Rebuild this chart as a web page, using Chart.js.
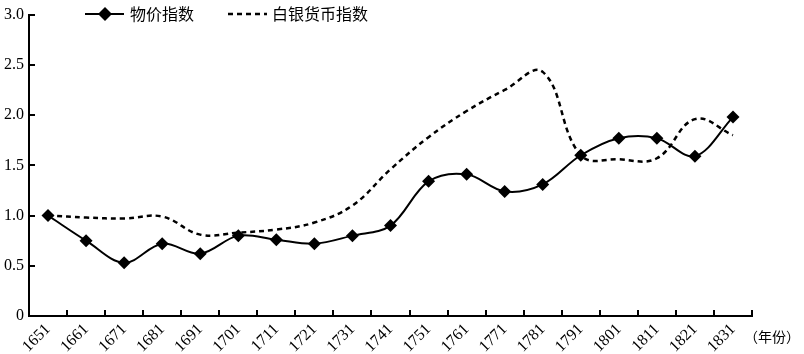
<!DOCTYPE html>
<html>
<head>
<meta charset="utf-8">
<script src="https://cdn.jsdelivr.net/npm/chart.js@4.4.1/dist/chart.umd.min.js"></script>
<style>
  html, body { margin: 0; padding: 0; background: #fff; }
  #wrap { width: 804px; height: 354px; position: relative; }
</style>
</head>
<body>
<div id="wrap"><canvas id="myChart" width="804" height="354"></canvas></div>
<script>
// 年份
const years = ['1651','1661','1671','1681','1691','1701','1711','1721','1731','1741',
               '1751','1761','1771','1781','1791','1801','1811','1821','1831'];
// 物价指数
const priceIndex = [1.0, 0.75, 0.53, 0.72, 0.62, 0.80, 0.76, 0.72, 0.80, 0.90,
                    1.34, 1.41, 1.24, 1.31, 1.60, 1.77, 1.77, 1.59, 1.98];
// 白银货币指数
const silverIndex = [1.0, 0.98, 0.97, 0.99, 0.81, 0.83, 0.86, 0.93, 1.10, 1.46,
                     1.78, 2.04, 2.25, 2.43, 1.60, 1.56, 1.57, 1.96, 1.80];
const yTicks = [0, 0.5, 1.0, 1.5, 2.0, 2.5, 3.0];

const numFont = "'Liberation Serif', 'DejaVu Serif', serif";
const cjkFont = "'Noto Sans CJK SC', sans-serif";

// 刻度朝内 + 图例 + 年份标注
const extras = {
  id: 'extras',
  afterDraw(chart) {
    const ctx = chart.ctx;
    const xs = chart.scales.x, ys = chart.scales.y;
    ctx.save();
    ctx.strokeStyle = '#000';
    ctx.lineWidth = 2;
    // x 轴刻度（类别之间）
    const n = years.length;
    const step = (xs.right - xs.left) / n;
    ctx.beginPath();
    for (let k = 1; k <= n; k++) {
      const px = Math.round(xs.left + k * step);
      ctx.moveTo(px, xs.top);
      ctx.lineTo(px, xs.top - 6);
    }
    // y 轴刻度
    yTicks.forEach(v => {
      if (v === 0) return;
      const py = Math.round(ys.getPixelForValue(v));
      ctx.moveTo(ys.right, py);
      ctx.lineTo(ys.right + 6, py);
    });
    ctx.stroke();

    // 图例
    const ly = 14;
    ctx.beginPath();
    ctx.moveTo(85, ly); ctx.lineTo(124, ly);
    ctx.stroke();
    ctx.fillStyle = '#000';
    ctx.beginPath();
    ctx.moveTo(105, ly - 7); ctx.lineTo(112, ly); ctx.lineTo(105, ly + 7); ctx.lineTo(98, ly);
    ctx.closePath(); ctx.fill();
    ctx.setLineDash([5, 4]);
    ctx.lineWidth = 2.5;
    ctx.beginPath();
    ctx.moveTo(228, ly); ctx.lineTo(267, ly);
    ctx.stroke();
    ctx.setLineDash([]);
    ctx.font = '16px ' + cjkFont;
    ctx.textBaseline = 'middle';
    ctx.textAlign = 'left';
    ctx.fillText(chart.data.datasets[0].label, 130, ly);
    ctx.fillText(chart.data.datasets[1].label, 272, ly);

    ctx.font = '14px ' + cjkFont;
    ctx.fillText('（年份）', 744, 337);
    ctx.restore();
  }
};

const ctx = document.getElementById('myChart');
new Chart(ctx, {
  type: 'line',
  data: {
    labels: years,
    datasets: [
      {
        label: '物价指数',
        data: priceIndex,
        borderColor: '#000',
        backgroundColor: '#000',
        borderWidth: 2,
        tension: 0.35,
        pointStyle: 'rectRot',
        pointRadius: 6.5,
        pointBorderWidth: 0,
        pointBackgroundColor: '#000'
      },
      {
        label: '白银货币指数',
        data: silverIndex,
        borderColor: '#000',
        borderWidth: 2.5,
        borderDash: [5, 4],
        tension: 0.4,
        pointRadius: 0
      }
    ]
  },
  options: {
    responsive: false,
    animation: false,
    layout: { padding: { top: 12, right: 52, left: 0, bottom: 0 } },
    plugins: {
      legend: { display: false },
      tooltip: { enabled: false }
    },
    scales: {
      x: {
        offset: true,
        grid: { display: false, drawTicks: false },
        border: { display: true, color: '#000', width: 2 },
        ticks: {
          color: '#000',
          font: { family: numFont, size: 16 },
          maxRotation: 45,
          minRotation: 45,
          padding: 4,
          autoSkip: false
        },
        afterFit(scale) { scale.height = 38; }
      },
      y: {
        min: 0,
        max: 3,
        grid: { display: false, drawTicks: false },
        border: { display: true, color: '#000', width: 2 },
        ticks: {
          stepSize: 0.5,
          color: '#000',
          padding: 5,
          font: { family: numFont, size: 16 },
          callback: v => v === 0 ? '0' : v.toFixed(1)
        },
        afterFit(scale) { scale.width = 29; }
      }
    }
  },
  plugins: [extras]
});
</script>
</body>
</html>
